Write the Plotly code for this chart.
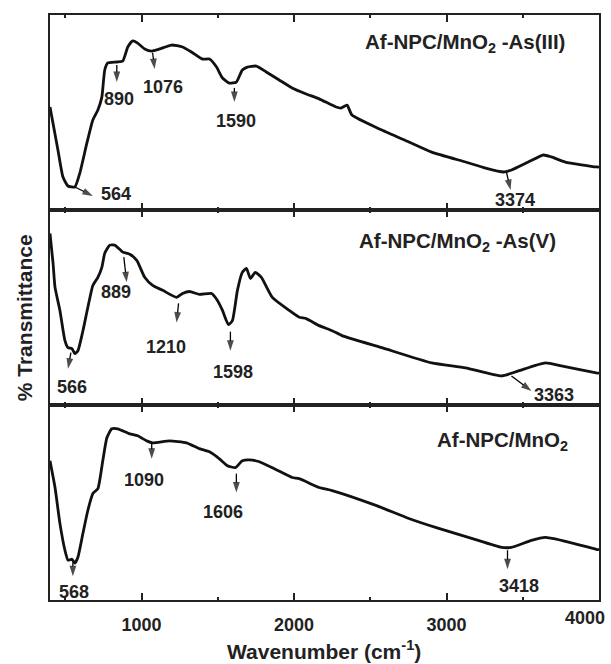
import plotly.graph_objects as go
from plotly.subplots import make_subplots

# ---------------- data (wavenumber cm-1, relative transmittance per panel 0-100) -------------
wn_as3 = [400, 452, 485, 518, 563, 596, 642, 681, 714, 740, 759, 779, 838, 877, 910, 942, 975,
          1021, 1067, 1119, 1197, 1269, 1328, 1400, 1446, 1492, 1531, 1576, 1622, 1661, 1694,
          1753, 1818, 1903, 1988, 2080, 2165, 2276, 2308, 2348, 2380, 2576, 2753, 2903, 3125,
          3256, 3374, 3426, 3537, 3635, 3688, 3779, 3982, 4000]
t_as3 = [52.8, 30.8, 16.9, 12.3, 11.8, 19.0, 34.4, 46.2, 51.3, 57.9, 71.8, 75.4, 75.9, 76.4,
         83.6, 86.7, 85.6, 82.6, 81.5, 82.6, 84.6, 83.6, 81.0, 77.4, 77.4, 73.3, 67.7, 65.1,
         65.6, 71.8, 73.3, 73.8, 70.8, 66.7, 62.6, 59.5, 57.0, 52.8, 52.3, 53.8, 48.7, 41.0,
         34.9, 29.7, 24.6, 21.5, 19.5, 20.5, 24.6, 28.2, 27.2, 24.6, 22.1, 22.0]

wn_as5 = [400, 420, 433, 465, 498, 518, 544, 563, 583, 616, 648, 681, 714, 740, 759, 792, 825,
          877, 923, 969, 1021, 1073, 1139, 1230, 1269, 1315, 1380, 1459, 1498, 1531, 1570,
          1596, 1629, 1661, 1688, 1714, 1746, 1786, 1858, 1969, 2034, 2080, 2165, 2250, 2315,
          2576, 2903, 3125, 3361, 3472, 3648, 3753, 3982, 4000]
t_as5 = [88.0, 72.7, 60.3, 48.5, 33.0, 29.4, 28.9, 26.3, 27.8, 38.1, 50.0, 61.3, 65.5, 70.6,
         77.8, 82.0, 82.0, 78.4, 77.3, 74.2, 65.5, 61.3, 58.8, 55.2, 57.2, 58.2, 56.7, 57.2,
         53.6, 48.5, 41.2, 43.3, 58.8, 68.0, 70.1, 64.9, 68.0, 65.5, 55.2, 48.5, 45.0, 44.3,
         40.7, 38.1, 35.6, 29.4, 21.6, 19.1, 14.9, 17.5, 21.6, 20.1, 16.5, 16.3]

wn_base = [400, 433, 465, 498, 518, 544, 563, 583, 616, 648, 681, 714, 746, 773, 805, 844, 923,
           975, 1034, 1073, 1184, 1295, 1380, 1446, 1511, 1563, 1616, 1661, 1707, 1773, 1884,
           1988, 2034, 2165, 2250, 2537, 2753, 2949, 3165, 3361, 3426, 3557, 3648, 3753, 3982,
           4000]
t_base = [71.4, 57.7, 39.3, 25.5, 20.4, 20.9, 18.9, 21.9, 34.2, 45.9, 54.6, 57.1, 71.4, 83.2,
          87.8, 87.8, 85.2, 84.2, 81.6, 80.6, 81.6, 80.6, 77.6, 76.0, 72.4, 68.9, 67.9, 71.4,
          71.9, 70.9, 66.8, 62.8, 62.2, 57.7, 56.1, 48.5, 41.8, 36.7, 31.6, 27.0, 27.0, 30.6,
          32.1, 30.6, 26.0, 25.8]

sample_names = ["Af-NPC/MnO<sub>2</sub> -As(III)", "Af-NPC/MnO<sub>2</sub> -As(V)",
                "Af-NPC/MnO<sub>2</sub>"]
sample_label_pos = [(3792, 85.6), (3733, 83.5), (3812, 81.6)]

# peak labels: (row, text, text_x, text_y, arrow_tail_x, arrow_tail_y, arrow_head_x, arrow_head_y)
peak_labels = [
    (1, "890", 851, 56.9, 838, 74.4, 838, 65.6),
    (1, "1076", 1139, 63.1, 1073, 80.5, 1086, 72.3),
    (1, "1590", 1622, 45.6, 1609, 62.6, 1609, 55.4),
    (1, "564", 831, 8.2, 563, 11.8, 681, 7.2),
    (1, "3374", 3446, 5.1, 3393, 19.5, 3420, 10.3),
    (2, "889", 831, 57.7, 884, 75.8, 903, 62.9),
    (2, "566", 544, 9.3, 537, 26.8, 518, 18.6),
    (2, "1210", 1158, 29.9, 1243, 52.1, 1230, 42.3),
    (2, "1598", 1603, 17.0, 1583, 37.6, 1583, 27.8),
    (2, "3363", 3707, 5.2, 3426, 14.9, 3557, 7.2),
    (3, "1090", 1014, 61.7, 1067, 80.6, 1067, 72.4),
    (3, "1606", 1537, 44.9, 1622, 64.8, 1622, 55.1),
    (3, "568", 557, 4.1, 550, 19.4, 550, 12.2),
    (3, "3418", 3478, 7.1, 3400, 25.5, 3400, 15.8),
]

x_tick_vals = [1000, 2000, 3000, 4000]
x_tick_text = ["1000", "2000", "3000", "4000"]

# ---------------- figure ----------------
FONT = "Liberation Sans, Arial, sans-serif"
TXT = "#222222"

fig = make_subplots(rows=3, cols=1, shared_xaxes=True, vertical_spacing=0)

series = [(wn_as3, t_as3), (wn_as5, t_as5), (wn_base, t_base)]
for i, (xs, ys) in enumerate(series, start=1):
    fig.add_trace(go.Scatter(x=xs, y=ys, mode="lines",
                             line=dict(color="#111111", width=2.8, shape="spline", smoothing=0.5),
                             showlegend=False, hoverinfo="skip"), row=i, col=1)

# arrows as short line traces ending in an arrow marker
for (row, txt, tx, ty, sx, sy, hx, hy) in peak_labels:
    fig.add_trace(go.Scatter(x=[sx, hx], y=[sy, hy], mode="lines+markers",
                             line=dict(color="#000000", width=1.3),
                             marker=dict(symbol="arrow", size=[0, 11], angleref="previous",
                                         color="#000000", line=dict(width=0)),
                             showlegend=False, hoverinfo="skip"), row=row, col=1)

# last tick label is drawn separately so it can stay inside the figure (as in the reference)
axis_tick_text = x_tick_text[:-1] + [""]
for i in range(1, 4):
    fig.update_xaxes(range=[400, 4000], showline=True, linewidth=2, linecolor="#222222",
                     mirror="ticks", ticks="inside", ticklen=7, tickwidth=2, tickcolor="#222222",
                     tickvals=x_tick_vals, ticktext=axis_tick_text, ticklabelstandoff=7,
                     minor=dict(dtick=500, tick0=0, ticks="inside", ticklen=3, tickwidth=1.5,
                                tickcolor="#222222"),
                     showgrid=False, zeroline=False, showticklabels=(i == 3),
                     tickfont=dict(family=FONT, size=18, color=TXT, weight="bold"),
                     row=i, col=1)
    fig.update_yaxes(range=[0, 100], showline=True, linewidth=2, linecolor="#222222",
                     mirror=True, ticks="", showticklabels=False, showgrid=False,
                     zeroline=False, row=i, col=1)

annotations = []
axes = {1: ("x", "y"), 2: ("x2", "y2"), 3: ("x3", "y3")}
for i, (name, (lx, ly)) in enumerate(zip(sample_names, sample_label_pos), start=1):
    xr, yr = axes[i]
    annotations.append(dict(x=lx, y=ly, xref=xr, yref=yr, text=name, showarrow=False,
                            xanchor="right", yanchor="middle",
                            font=dict(family=FONT, size=20.5, color=TXT, weight="bold")))

for (row, txt, tx, ty, sx, sy, hx, hy) in peak_labels:
    xr, yr = axes[row]
    annotations.append(dict(x=tx, y=ty, xref=xr, yref=yr, text=txt, showarrow=False,
                            xanchor="center", yanchor="middle",
                            font=dict(family=FONT, size=18, color=TXT, weight="bold")))

annotations.append(dict(x=x_tick_vals[-1], y=-0.030, xref="x3", yref="paper",
                        text=x_tick_text[-1], showarrow=False, xanchor="right",
                        yanchor="middle", xshift=8,
                        font=dict(family=FONT, size=18, color=TXT, weight="bold")))

annotations.append(dict(x=-0.047, y=0.482, xref="paper", yref="paper", text="% Transmittance",
                        textangle=-90, showarrow=False, xanchor="center", yanchor="middle",
                        font=dict(family=FONT, size=21, color=TXT, weight="bold")))
annotations.append(dict(x=0.499, y=-0.085, xref="paper", yref="paper",
                        text="Wavenumber (cm<sup>-1</sup>)", showarrow=False,
                        xanchor="center", yanchor="middle",
                        font=dict(family=FONT, size=21, color=TXT, weight="bold")))

fig.update_layout(width=611, height=664, margin=dict(l=50, r=10, t=15, b=64),
                  paper_bgcolor="white", plot_bgcolor="white",
                  annotations=annotations, showlegend=False)

fig.write_html("out.html", config={"displayModeBar": False},
               post_script="document.body.style.margin='0';document.body.style.overflow='hidden';")
